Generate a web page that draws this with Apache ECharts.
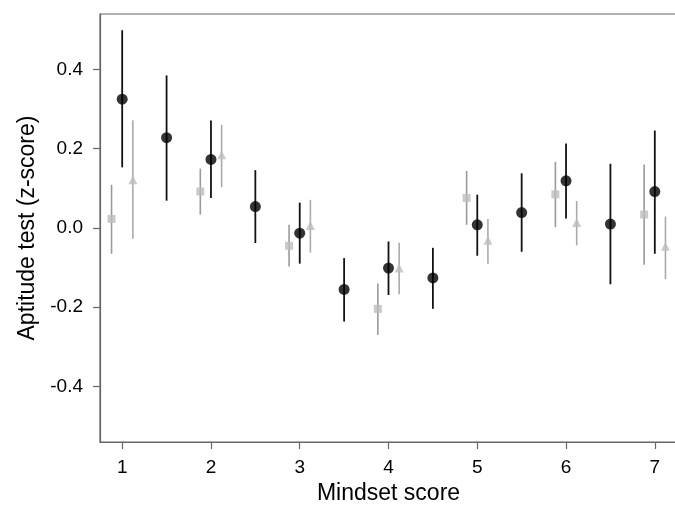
<!DOCTYPE html>
<html>
<head>
<meta charset="utf-8">
<script src="https://cdn.jsdelivr.net/npm/echarts@6/dist/echarts.min.js"></script>
<style>
  html, body { margin: 0; padding: 0; background: #fff; }
  #main { width: 675px; height: 505px; }
</style>
</head>
<body>
<div id="main"></div>
<script>
// black circles: every half point of the mindset scale
var circleX = [1, 1.5, 2, 2.5, 3, 3.5, 4, 4.5, 5, 5.5, 6, 6.5, 7];
var circleMean = [0.325, 0.228, 0.173, 0.054, -0.013, -0.155, -0.101, -0.126, 0.008, 0.039, 0.119, 0.010, 0.092];
var circleLow = [0.153, 0.069, 0.076, -0.038, -0.090, -0.236, -0.169, -0.204, -0.070, -0.060, 0.024, -0.142, -0.065];
var circleHigh = [0.499, 0.385, 0.271, 0.146, 0.064, -0.076, -0.034, -0.050, 0.084, 0.138, 0.213, 0.162, 0.246];

// grey squares, just left of each whole point
var squareX = [0.88, 1.88, 2.88, 3.88, 4.88, 5.88, 6.88];
var squareMean = [0.023, 0.092, -0.045, -0.204, 0.076, 0.085, 0.034];
var squareLow = [-0.065, 0.034, -0.097, -0.270, 0.008, 0.002, -0.093];
var squareHigh = [0.109, 0.150, 0.008, -0.140, 0.144, 0.167, 0.160];

// grey triangles, just right of each whole point
var triangleX = [1.12, 2.12, 3.12, 4.12, 5.12, 6.12, 7.12];
var triangleMean = [0.122, 0.185, 0.006, -0.101, -0.031, 0.014, -0.046];
var triangleLow = [-0.027, 0.103, -0.062, -0.167, -0.090, -0.044, -0.129];
var triangleHigh = [0.272, 0.260, 0.071, -0.037, 0.023, 0.068, 0.029];

var xTicks = [1, 2, 3, 4, 5, 6, 7];
var yTicks = [-0.4, -0.2, 0, 0.2, 0.4];

function zip3(xs, a, b) {
  return xs.map(function (x, i) { return [x, a[i], b[i]]; });
}
function zip2(xs, a) {
  return xs.map(function (x, i) { return [x, a[i]]; });
}

function errorBars(data, color, width) {
  return {
    type: 'custom',
    data: data,
    silent: true,
    z: 2,
    encode: { x: 0, y: [1, 2] },
    renderItem: function (params, api) {
      var lo = api.coord([api.value(0), api.value(1)]);
      var hi = api.coord([api.value(0), api.value(2)]);
      return {
        type: 'line',
        shape: { x1: lo[0], y1: lo[1], x2: hi[0], y2: hi[1] },
        style: { stroke: color, lineWidth: width }
      };
    }
  };
}

var chart = echarts.init(document.getElementById('main'));

var axisFont = { fontFamily: 'Liberation Sans, Arial, sans-serif', color: '#000' };
var axisGrey = { color: '#666', width: 1.2 };

chart.setOption({
  animation: false,
  grid: {
    left: 100, top: 14, right: -2, bottom: 63,
    outerBoundsMode: 'none',
    containLabel: false,
    show: true, borderColor: '#666', borderWidth: 1.2
  },
  xAxis: {
    type: 'value',
    min: 0.75, max: 7.25,
    name: 'Mindset score',
    nameLocation: 'middle',
    nameGap: 40,
    nameTextStyle: Object.assign({ fontSize: 23 }, axisFont),
    axisLine: { show: true, onZero: false, lineStyle: axisGrey },
    axisTick: { show: true, length: 7, customValues: xTicks, lineStyle: axisGrey },
    axisLabel: Object.assign({ fontSize: 19, margin: 16, customValues: xTicks }, axisFont),
    splitLine: { show: false }
  },
  yAxis: {
    type: 'value',
    min: -0.54, max: 0.54,
    name: 'Aptitude test (z-score)',
    nameLocation: 'middle',
    nameGap: 59,
    nameTextStyle: Object.assign({ fontSize: 23 }, axisFont),
    axisLine: { show: true, onZero: false, lineStyle: axisGrey },
    axisTick: { show: true, length: 7, customValues: yTicks, lineStyle: axisGrey },
    axisLabel: Object.assign({
      fontSize: 19, margin: 17, customValues: yTicks,
      formatter: function (v) { return v.toFixed(1); }
    }, axisFont),
    splitLine: { show: false }
  },
  series: [
    errorBars(zip3(squareX, squareLow, squareHigh), '#9a9a9a', 1.6),
    errorBars(zip3(triangleX, triangleLow, triangleHigh), '#aaaaaa', 1.6),
    errorBars(zip3(circleX, circleLow, circleHigh), '#111', 1.8),
    {
      type: 'scatter', data: zip2(squareX, squareMean), z: 3,
      symbol: 'rect', symbolSize: 8,
      itemStyle: { color: '#bdbdbd' }
    },
    {
      type: 'scatter', data: zip2(triangleX, triangleMean), z: 3,
      symbol: 'triangle', symbolSize: 9,
      itemStyle: { color: '#bdbdbd' }
    },
    {
      type: 'scatter', data: zip2(circleX, circleMean), z: 4,
      symbol: 'circle', symbolSize: 11,
      itemStyle: { color: '#000' }
    }
  ]
});
</script>
</body>
</html>
